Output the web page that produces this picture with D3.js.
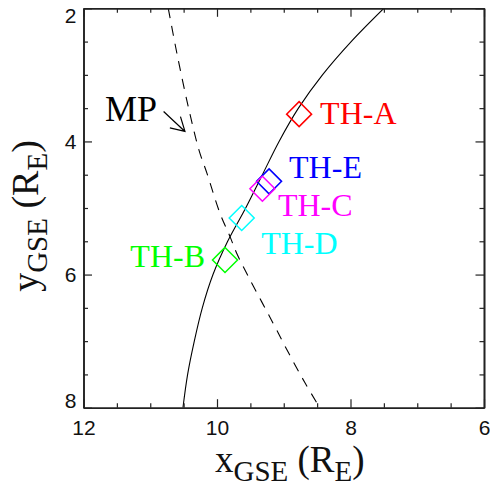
<!DOCTYPE html>
<html>
<head>
<meta charset="utf-8">
<script src="https://cdn.jsdelivr.net/npm/d3@7"></script>
<style>
  html, body { margin: 0; padding: 0; background: #fff; }
  svg { display: block; }
</style>
</head>
<body>
<svg id="chart" width="490" height="485"></svg>
<script>
// ---------- data ----------
const xMajorTicks = [12, 10, 8, 6];
const xMinorTicks = [11.5, 11, 10.5, 9.5, 9, 8.5, 7.5, 7, 6.5];
const yMajorTicks = [2, 4, 6, 8];
const yMinorTicks = [2.5, 3, 3.5, 4.5, 5, 5.5, 6.5, 7, 7.5];

// solid boundary curve (x, y in R_E)
const curveX = [7.50, 7.99, 8.42, 8.78, 9.07, 9.32, 9.57, 9.84, 10.06, 10.22, 10.34, 10.44, 10.51];
const curveY = [2.0, 2.5, 3.0, 3.5, 4.0, 4.5, 5.0, 5.5, 6.0, 6.5, 7.0, 7.5, 8.0];

// dashed magnetopause (MP)
const mpX = [10.73, 10.60, 10.43, 10.27, 10.15, 9.955, 9.805, 9.705, 9.53, 9.16, 8.91, 8.68, 8.46];
const mpY = [2.00, 2.68, 3.48, 4.13, 4.48, 5.08, 5.43, 5.68, 6.03, 6.73, 7.21, 7.63, 8.00];

// THEMIS probes
const probes  = ["TH-A", "TH-E", "TH-C", "TH-D", "TH-B"];
const probeX  = [8.77, 9.22, 9.32, 9.63, 9.88];
const probeY  = [3.59, 4.60, 4.71, 5.15, 5.78];
const probeColors = ["#ff0000", "#0000ff", "#ff00ff", "#00ffff", "#00ff00"];

// MP arrow annotation (data coords: from -> to)
const mpArrowFrom = [10.80, 3.55];
const mpArrowTo   = [10.48, 3.85];
const mpLabel = "MP";

// ---------- layout ----------
const W = 490, H = 485;
const margin = {left: 83.5, top: 8.3, right: 6, bottom: 77.3};
const iw = W - margin.left - margin.right;
const ih = H - margin.top - margin.bottom;

// label offsets (pixels) relative to each diamond
const labelOffsets = [
  {dx: 21, dy: 10, anchor: "start"},
  {dx: 20, dy: -3.5, anchor: "start"},
  {dx: 15.5, dy: 27, anchor: "start"},
  {dx: 19.5, dy: 36.5, anchor: "start"},
  {dx: -20, dy: 6.7, anchor: "end"}
];

const svg = d3.select("#chart");
const g = svg.append("g").attr("transform", `translate(${margin.left},${margin.top})`);

const x = d3.scaleLinear().domain([12, 6]).range([0, iw]);
const y = d3.scaleLinear().domain([2, 8]).range([0, ih]);

const axisColor = "#222";
const tickFont = "'Liberation Sans', Arial, Helvetica, sans-serif";
const serif = "'Liberation Serif', 'Times New Roman', Times, serif";

// clip
svg.append("defs").append("clipPath").attr("id", "clip")
  .append("rect").attr("width", iw).attr("height", ih);

// ---------- curves ----------
const solidLine = d3.line()
  .x((d, i) => x(curveX[i])).y((d, i) => y(curveY[i]))
  .curve(d3.curveCatmullRom.alpha(0.5));
g.append("path")
  .attr("clip-path", "url(#clip)")
  .attr("d", solidLine(curveX))
  .attr("fill", "none").attr("stroke", "#000").attr("stroke-width", 1.1);

const mpLine = d3.line()
  .x((d, i) => x(mpX[i])).y((d, i) => y(mpY[i]))
  .curve(d3.curveCatmullRom.alpha(0.5));
g.append("path")
  .attr("clip-path", "url(#clip)")
  .attr("d", mpLine(mpX))
  .attr("fill", "none").attr("stroke", "#000").attr("stroke-width", 1.1)
  .attr("stroke-dasharray", "10,8");

// ---------- probes ----------
const half = 12.5;
probes.forEach((name, i) => {
  const cx = x(probeX[i]), cy = y(probeY[i]);
  g.append("path")
    .attr("d", `M${cx},${cy - half}L${cx + half},${cy}L${cx},${cy + half}L${cx - half},${cy}Z`)
    .attr("fill", "none").attr("stroke", probeColors[i]).attr("stroke-width", 1.5);
});
probes.forEach((name, i) => {
  const cx = x(probeX[i]), cy = y(probeY[i]);
  const o = labelOffsets[i];
  g.append("text")
    .attr("x", cx + o.dx).attr("y", cy + o.dy)
    .attr("text-anchor", o.anchor)
    .attr("font-family", serif).attr("font-size", 32)
    .attr("fill", probeColors[i])
    .text(name);
});

// ---------- MP arrow ----------
{
  const x0 = x(mpArrowFrom[0]), y0 = y(mpArrowFrom[1]);
  const x1 = x(mpArrowTo[0]), y1 = y(mpArrowTo[1]);
  const ang = Math.atan2(y1 - y0, x1 - x0);
  const hl = 15.5, ha = Math.PI / 6;
  const p = d3.path();
  p.moveTo(x0, y0); p.lineTo(x1, y1);
  p.moveTo(x1 - hl * Math.cos(ang - ha), y1 - hl * Math.sin(ang - ha));
  p.lineTo(x1, y1);
  p.lineTo(x1 - hl * Math.cos(ang + ha), y1 - hl * Math.sin(ang + ha));
  g.append("path").attr("d", p.toString())
    .attr("fill", "none").attr("stroke", "#000").attr("stroke-width", 1.2);
  g.append("text")
    .attr("x", x0 - 6.5).attr("y", y0 + 10)
    .attr("text-anchor", "end")
    .attr("font-family", serif).attr("font-size", 36)
    .attr("fill", "#000")
    .text(mpLabel);
}

// ---------- axes ----------
function styleAxis(sel) {
  sel.select(".domain").attr("stroke", axisColor).attr("stroke-width", 1.6);
  sel.selectAll(".tick line").attr("stroke", axisColor).attr("stroke-width", 1.2);
  sel.selectAll(".tick text").attr("fill", "#111")
    .attr("font-family", tickFont).attr("font-size", 21);
}

// bottom
g.append("g").attr("transform", `translate(0,${ih})`)
  .call(d3.axisBottom(x).tickValues(xMinorTicks).tickFormat("").tickSizeInner(-4.5).tickSizeOuter(0))
  .call(styleAxis);
g.append("g").attr("transform", `translate(0,${ih})`)
  .call(d3.axisBottom(x).tickValues(xMajorTicks).tickFormat(d3.format("d")).tickSizeInner(-8.5).tickSizeOuter(0).tickPadding(12))
  .call(styleAxis);
// top
g.append("g")
  .call(d3.axisTop(x).tickValues(xMinorTicks).tickFormat("").tickSizeInner(-4.5).tickSizeOuter(0))
  .call(styleAxis);
g.append("g")
  .call(d3.axisTop(x).tickValues(xMajorTicks).tickFormat("").tickSizeInner(-8.5).tickSizeOuter(0))
  .call(styleAxis);
// left
g.append("g")
  .call(d3.axisLeft(y).tickValues(yMinorTicks).tickFormat("").tickSizeInner(-4.5).tickSizeOuter(0))
  .call(styleAxis);
const yAx = g.append("g")
  .call(d3.axisLeft(y).tickValues(yMajorTicks).tickFormat(d3.format("d")).tickSizeInner(-8.5).tickSizeOuter(0).tickPadding(7))
  .call(styleAxis);
// keep end labels inside the frame's vertical extent
yAx.selectAll(".tick text").attr("transform", d => {
  const py = y(d);
  const c = Math.max(7.5, Math.min(ih - 6.5, py));
  return `translate(0,${c - py})`;
});
// right
g.append("g").attr("transform", `translate(${iw},0)`)
  .call(d3.axisRight(y).tickValues(yMinorTicks).tickFormat("").tickSizeInner(-4.5).tickSizeOuter(0))
  .call(styleAxis);
g.append("g").attr("transform", `translate(${iw},0)`)
  .call(d3.axisRight(y).tickValues(yMajorTicks).tickFormat("").tickSizeInner(-8.5).tickSizeOuter(0))
  .call(styleAxis);

// ---------- axis titles ----------
const xt = svg.append("text")
  .attr("x", margin.left + iw / 2 + 6).attr("y", 471.5)
  .attr("text-anchor", "middle")
  .attr("font-family", serif).attr("font-size", 37).attr("fill", "#111");
xt.append("tspan").text("x");
xt.append("tspan").attr("font-size", 29).attr("dy", 9).text("GSE");
xt.append("tspan").attr("dy", -9).text(" (R");
xt.append("tspan").attr("font-size", 29).attr("dy", 9).text("E");
xt.append("tspan").attr("dy", -9).text(")");

const yt = svg.append("text")
  .attr("transform", `translate(38,${margin.top + ih / 2 + 8}) rotate(-90)`)
  .attr("text-anchor", "middle")
  .attr("font-family", serif).attr("font-size", 38).attr("fill", "#111");
yt.append("tspan").text("y");
yt.append("tspan").attr("font-size", 29).attr("dy", 9).text("GSE");
yt.append("tspan").attr("dy", -9).text(" (R");
yt.append("tspan").attr("font-size", 29).attr("dy", 9).text("E");
yt.append("tspan").attr("dy", -9).text(")");
</script>
</body>
</html>
